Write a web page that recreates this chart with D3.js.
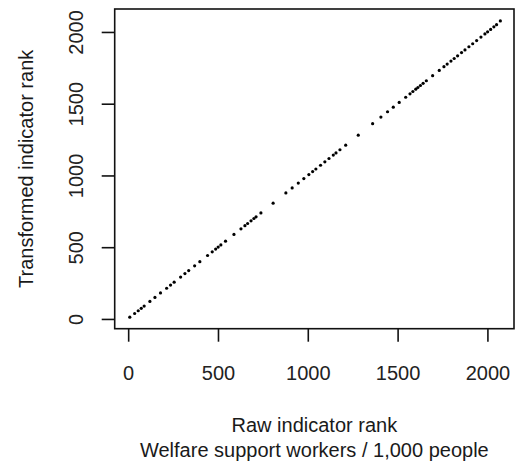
<!DOCTYPE html>
<html>
<head>
<meta charset="utf-8">
<script src="https://cdn.jsdelivr.net/npm/d3@7"></script>
<style>
  body { margin: 0; background: #fff; }
  text { font-family: "Liberation Sans", Arial, sans-serif; fill: #222; }
</style>
</head>
<body>
<script>
const w = 515;
const h = 469;

// ranks (raw vs transformed)
const rawRank = [9, 36, 56, 73, 89, 121, 149, 180, 214, 236, 256, 292, 316, 337, 370,
    399, 442, 468, 487, 501, 516, 542, 589, 628, 650, 665, 684, 700, 712, 739, 807,
    878, 913, 947, 978, 1006, 1027, 1045, 1071, 1095, 1118, 1142, 1157, 1179, 1211,
    1281, 1361, 1407, 1444, 1476, 1509, 1545, 1569, 1585, 1601, 1613, 1627, 1642, 1660,
    1695, 1732, 1758, 1776, 1797, 1815, 1834, 1856, 1875, 1897, 1918, 1940, 1964, 1986,
    2001, 2018, 2036, 2051, 2072];
const transformedRank = [12, 38, 57, 74, 90, 122, 150, 181, 214, 236, 256, 292, 316, 337, 370,
    399, 442, 468, 487, 501, 516, 542, 589, 628, 650, 665, 684, 700, 712, 739, 807,
    878, 913, 947, 978, 1006, 1027, 1045, 1071, 1095, 1118, 1142, 1157, 1179, 1211,
    1281, 1361, 1407, 1444, 1476, 1509, 1545, 1569, 1585, 1601, 1613, 1627, 1642, 1660,
    1695, 1732, 1758, 1776, 1797, 1815, 1834, 1856, 1875, 1897, 1918, 1940, 1964, 1986,
    2001, 2018, 2036, 2051, 2077];
const xTicks = [0, 500, 1000, 1500, 2000];
const yTicks = [0, 500, 1000, 1500, 2000];
const xTitle = "Raw indicator rank";
const xSubTitle = "Welfare support workers / 1,000 people";
const yTitle = "Transformed indicator rank";

const data = rawRank.map((d, i) => ({ x: d, y: transformedRank[i] }));

const plotLeft = 114.7, plotRight = 514, plotTop = 9, plotBottom = 328.7;

const svg = d3.select("body")
    .append("svg")
    .attr("width", w)
    .attr("height", h)
    ;

const xScale = d3.scaleLinear()
    .domain([-75, 2148])
    .range([plotLeft, plotRight])
    ;

const yScale = d3.scaleLinear()
    .domain([-68, 2160])
    .range([plotBottom, plotTop])
    ;

const xAxis = d3.axisBottom(xScale).tickValues(xTicks).tickSize(13).tickPadding(4).tickFormat(d3.format("d"));
const yAxis = d3.axisLeft(yScale).tickValues(yTicks).tickSize(13).tickFormat(d3.format("d"));

const gx = svg.append("g")
    .attr("transform", "translate(0, " + plotBottom + ")")
    .call(xAxis)
    ;
gx.select(".domain").remove();
gx.selectAll(".tick line").attr("stroke", "#111").attr("stroke-width", 1.6);
gx.selectAll(".tick text")
    .attr("y", null).attr("dy", null)
    .attr("transform", "translate(0, 51)")
    .style("font-size", "20px")
    .style("font-family", "'Liberation Sans', Arial, sans-serif")
    .attr("fill", "#1a1a1a");

const gy = svg.append("g")
    .attr("transform", "translate(" + plotLeft + ", 0)")
    .call(yAxis)
    ;
gy.select(".domain").remove();
gy.selectAll(".tick line").attr("stroke", "#111").attr("stroke-width", 1.6);
gy.selectAll(".tick text")
    .attr("x", null).attr("dy", null)
    .attr("text-anchor", "middle")
    .attr("transform", "translate(" + (83 - plotLeft) + ", 0) rotate(-90)")
    .style("font-size", "20px")
    .style("font-family", "'Liberation Sans', Arial, sans-serif")
    .attr("fill", "#1a1a1a");

// frame
svg.append("rect")
    .attr("x", plotLeft)
    .attr("y", plotTop)
    .attr("width", plotRight - plotLeft)
    .attr("height", plotBottom - plotTop)
    .attr("fill", "none")
    .attr("stroke", "#111")
    .attr("stroke-width", 1.6)
    ;

svg.append("g")
    .selectAll("circle")
    .data(data)
    .join("circle")
    .attr("cx", d => xScale(d.x))
    .attr("cy", d => yScale(d.y))
    .attr("r", 1.6)
    .attr("fill", "#000")
    ;

svg.append("text")
    .attr("x", (plotLeft + plotRight) / 2)
    .attr("y", 432)
    .attr("text-anchor", "middle")
    .style("font-size", "20px")
    .style("fill", "#1a1a1a")
    .text(xTitle);

svg.append("text")
    .attr("x", (plotLeft + plotRight) / 2)
    .attr("y", 457)
    .attr("text-anchor", "middle")
    .style("font-size", "20px")
    .style("fill", "#1a1a1a")
    .text(xSubTitle);

svg.append("text")
    .attr("transform", "translate(33, " + ((plotTop + plotBottom) / 2) + ") rotate(-90)")
    .attr("text-anchor", "middle")
    .style("font-size", "20px")
    .style("fill", "#1a1a1a")
    .text(yTitle);
</script>
</body>
</html>
